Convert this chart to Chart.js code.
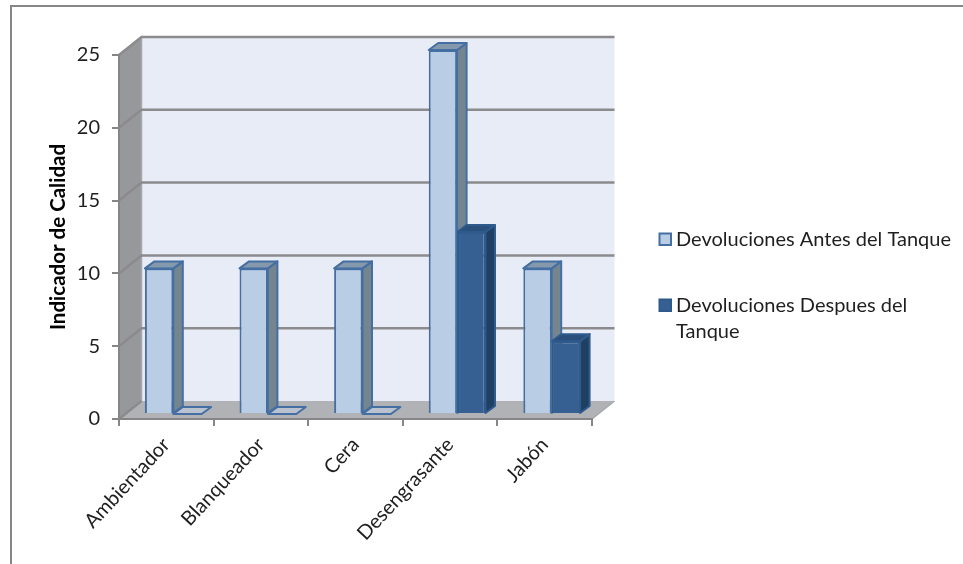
<!DOCTYPE html>
<html>
<head>
<meta charset="utf-8">
<title>Indicador de Calidad</title>
<script src="https://cdn.jsdelivr.net/npm/chart.js@4/dist/chart.umd.min.js"></script>
<style>
	html, body { margin: 0; padding: 0; background: #fff; }
	#wrap { position: relative; width: 963px; height: 564px; overflow: hidden; }
	#marco { position: absolute; left: 10px; top: 5px; width: 960px; height: 570px; border: 2px solid #868686; box-sizing: border-box; }
	#grafica { position: absolute; left: 0; top: 0; }
</style>
</head>
<body>
<div id="wrap">
	<canvas id="grafica" width="963" height="564"></canvas>
	<div id="marco"></div>
</div>
<script>
var categorias = ['Ambientador', 'Blanqueador', 'Cera', 'Desengrasante', 'Jabón'];
var antes = [10, 10, 10, 25, 10];
var despues = [0, 0, 0, 12.5, 5];
var nombreAntes = 'Devoluciones Antes del Tanque';
var nombreDespues = 'Devoluciones Despues del Tanque';
var marcasY = [0, 5, 10, 15, 20, 25];

var FUENTE = 'Lato, Carlito, sans-serif';
var GRIS = '#868686';

// profundidad de la caja 3D y de cada barra
var FONDO = { x: 22.5, y: -18 };
var DESPLAZA = { x: 7, y: -5 };
var CARA = { x: 9.5, y: -7 };

var estilos = [
	{ borde: '#456fa3', lado: '#74858f', tapa: '#8599ad', vacia: '#b9c2ce' },
	{ borde: '#2f5a8c', lado: '#1f3f63', tapa: '#2a4f7c', vacia: '#b9c2ce' }
];

function poligono(ctx, puntos, relleno, trazo, grosor) {
	ctx.beginPath();
	ctx.moveTo(puntos[0][0], puntos[0][1]);
	for (var i = 1; i < puntos.length; i++) {
		ctx.lineTo(puntos[i][0], puntos[i][1]);
	}
	ctx.closePath();
	if (relleno) {
		ctx.fillStyle = relleno;
		ctx.fill();
	}
	if (trazo) {
		ctx.strokeStyle = trazo;
		ctx.lineWidth = grosor || 1;
		ctx.stroke();
	}
}

// paredes, suelo y rejilla de fondo
var caja3d = {
	id: 'caja3d',
	beforeDraw: function(chart) {
		var ctx = chart.ctx;
		var a = chart.chartArea;
		var y = chart.scales.y;
		var fx = FONDO.x, fy = FONDO.y;
		ctx.save();
		poligono(ctx, [[a.left + fx, a.top + fy], [a.right + fx, a.top + fy], [a.right + fx, a.bottom + fy], [a.left + fx, a.bottom + fy]], '#e8ecf6');
		poligono(ctx, [[a.left, a.top], [a.left + fx, a.top + fy], [a.left + fx, a.bottom + fy], [a.left, a.bottom]], '#97989c');
		poligono(ctx, [[a.left, a.bottom], [a.right, a.bottom], [a.right + fx, a.bottom + fy], [a.left + fx, a.bottom + fy]], '#b0b2b5');

		ctx.strokeStyle = '#a5a7ab';
		ctx.lineWidth = 1.5;
		ctx.beginPath();
		ctx.moveTo(a.left + fx, a.top + fy);
		ctx.lineTo(a.left + fx, a.bottom + fy);
		ctx.stroke();

		ctx.strokeStyle = '#8b8b8d';
		ctx.lineWidth = 2.5;
		marcasY.forEach(function(v) {
			var py = y.getPixelForValue(v);
			ctx.beginPath();
			ctx.moveTo(a.left, py);
			ctx.lineTo(a.left + fx, py + fy);
			if (v > 0) {
				ctx.lineTo(a.right + fx, py + fy);
			}
			ctx.stroke();
		});
		ctx.beginPath();
		ctx.moveTo(a.right, a.bottom);
		ctx.lineTo(a.right + fx, a.bottom + fy);
		ctx.strokeStyle = '#a5a7ab';
		ctx.lineWidth = 1.5;
		ctx.stroke();
		ctx.restore();
	},
	// caras laterales y superiores, antes de los frentes que pinta Chart.js
	beforeDatasetsDraw: function(chart) {
		var ctx = chart.ctx;
		ctx.save();
		ctx.translate(DESPLAZA.x, DESPLAZA.y);
		ctx.lineJoin = 'round';
		[0, 1].forEach(function(d) {
			var e = estilos[d];
			chart.getDatasetMeta(d).data.forEach(function(bar) {
				var izq = bar.x - bar.width / 2;
				var der = bar.x + bar.width / 2;
				var arriba = bar.y, abajo = bar.base;
				if (abajo - arriba < 1) {
					poligono(ctx, [[izq, arriba], [der, arriba], [der + CARA.x, arriba + CARA.y], [izq + CARA.x, arriba + CARA.y]], e.vacia, '#456fa3', 2);
					return;
				}
				poligono(ctx, [[der, arriba], [der + CARA.x, arriba + CARA.y], [der + CARA.x, abajo + CARA.y], [der, abajo]], e.lado, e.borde, 2);
				poligono(ctx, [[izq, arriba], [der, arriba], [der + CARA.x, arriba + CARA.y], [izq + CARA.x, arriba + CARA.y]], e.tapa, e.borde, 2);
			});
		});
		ctx.restore();
	},
	beforeDatasetDraw: function(chart) {
		chart.ctx.save();
		chart.ctx.translate(DESPLAZA.x, DESPLAZA.y);
	},
	afterDatasetDraw: function(chart) {
		chart.ctx.restore();
	},
	afterDraw: function(chart) {
		var ctx = chart.ctx;
		var filas = [
			{ color: '#b9cde5', borde: '#456fa3', caja: 233.5, lineas: [[nombreAntes, 246]] },
			{ color: '#376092', borde: '#2f5a8c', caja: 299.5, lineas: [['Devoluciones Despues del', 312], ['Tanque', 338]] }
		];
		ctx.save();
		ctx.font = '20px ' + FUENTE;
		ctx.textBaseline = 'alphabetic';
		filas.forEach(function(f) {
			ctx.fillStyle = f.color;
			ctx.strokeStyle = f.borde;
			ctx.lineWidth = 2;
			ctx.fillRect(659.5, f.caja, 11.5, 11.5);
			ctx.strokeRect(659.5, f.caja, 11.5, 11.5);
			ctx.fillStyle = '#1f1f1f';
			f.lineas.forEach(function(l) {
				ctx.fillText(l[0], 676, l[1]);
			});
		});
		ctx.restore();
	}
};

new Chart(document.getElementById('grafica'), {
	type: 'bar',
	plugins: [caja3d],
	data: {
		labels: categorias,
		datasets: [
			{
				label: nombreAntes,
				data: antes,
				backgroundColor: '#b9cde5',
				borderColor: '#456fa3',
				borderWidth: 2,
				categoryPercentage: 0.6,
				barPercentage: 1
			},
			{
				label: nombreDespues,
				data: despues,
				backgroundColor: '#376092',
				borderColor: '#2f5a8c',
				borderWidth: 2,
				categoryPercentage: 0.6,
				barPercentage: 1
			}
		]
	},
	options: {
		responsive: false,
		animation: false,
		layout: { padding: { left: 46, right: 371, top: 55, bottom: 0 } },
		plugins: {
			legend: { display: false },
			tooltip: { enabled: false }
		},
		scales: {
			x: {
				afterFit: function(s) { s.height = 145; },
				grid: { drawOnChartArea: false, color: GRIS, lineWidth: 2, tickLength: 7, offset: true },
				border: { color: GRIS, width: 2 },
				ticks: {
					color: '#1f1f1f',
					font: { family: FUENTE, size: 20 },
					minRotation: 47,
					maxRotation: 47,
					padding: 7,
					autoSkip: false
				}
			},
			y: {
				min: 0,
				max: 25,
				afterFit: function(s) { s.width = 73; },
				afterBuildTicks: function(s) { s.ticks = marcasY.map(function(v) { return { value: v }; }); },
				title: {
					display: true,
					text: 'Indicador de Calidad',
					color: '#000',
					font: { family: FUENTE, size: 20.5, weight: 'bold' },
					padding: 0
				},
				grid: { drawOnChartArea: false, color: GRIS, lineWidth: 2, tickLength: 7 },
				border: { color: GRIS, width: 2 },
				ticks: {
					color: '#1f1f1f',
					font: { family: FUENTE, size: 20 },
					padding: 12
				}
			}
		}
	}
});
</script>
</body>
</html>
